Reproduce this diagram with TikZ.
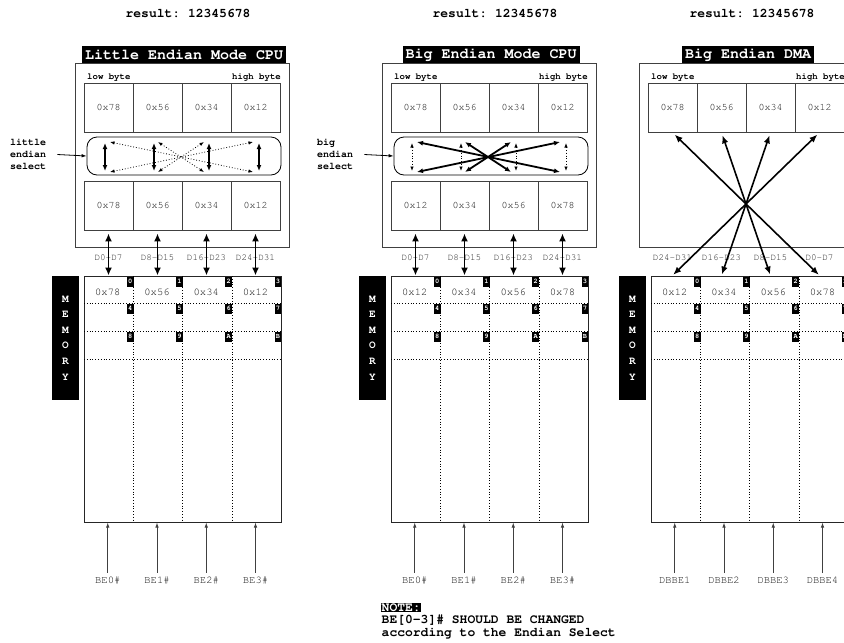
\documentclass[tikz,border=0pt]{standalone}
\usepackage{fontspec}
\setmainfont{Liberation Mono}
\usetikzlibrary{arrows.meta,positioning}

% Courier (Type 1) for all texts
\newcommand\courfont[2]{\fontencoding{T1}\fontfamily{pcr}\fontsize{#1}{#2}\selectfont\frenchspacing}

\tikzset{
  frame/.style={draw=black!75,line width=0.9pt},
  cell/.style={draw=black!75,line width=0.9pt,minimum width=49pt,minimum height=49pt,
    inner sep=0pt,text=black!90,font=\courfont{10}{12}},
  resultlbl/.style={font=\courfont{13}{14}\bfseries},
  titlebox/.style={fill=black,text=white,inner xsep=3pt,inner ysep=0pt,minimum height=17pt,
    font=\courfont{15}{16}\bfseries},
  bytelbl/.style={inner sep=1pt,font=\courfont{9}{10}\bfseries},
  selbox/.style={draw,line width=0.8pt,rounded corners=10pt,minimum width=194pt,minimum height=38pt},
  sellbl/.style={align=left,inner sep=1pt,font=\courfont{10}{12}\bfseries},
  selarrow/.style={line width=0.8pt,shorten <=10pt,-{Latex[length=5pt,width=3.5pt]}},
  swapon/.style={line width=1.5pt,{Latex[length=6pt,width=5pt]}-{Latex[length=6pt,width=5pt]}},
  swapoff/.style={dotted,line width=0.8pt,{Latex[length=4.5pt,width=3.5pt]}-{Latex[length=4.5pt,width=3.5pt]}},
  buslbl/.style={text=black!85,inner sep=1pt,font=\courfont{9.3}{10}},
  bus/.style={line width=1.8pt,shorten <=3pt,{Latex[length=8pt,width=7pt]}-{Latex[length=8pt,width=7pt]}},
  dma/.style={line width=1.6pt,shorten <=3pt,shorten >=1pt,{Latex[length=8pt,width=6.5pt]}-{Latex[length=8pt,width=6.5pt]}},
  memframe/.style={draw=black!85,line width=1pt,minimum width=197pt,minimum height=246pt},
  grid/.style={dotted,line width=0.8pt},
  memval/.style={text=black!90,font=\courfont{10.5}{12}},
  tag/.style={fill=black,text=white,inner xsep=1.2pt,inner ysep=0pt,minimum height=10pt,
    anchor=north east,font=\courfont{7}{8}\bfseries},
  memlbl/.style={fill=black,text=white,align=center,minimum width=27pt,minimum height=124pt,
    font=\courfont{11}{15.6}\bfseries},
  belbl/.style={text=black!90,font=\courfont{10.5}{12}},
  bearrow/.style={draw=black!75,line width=0.8pt,-{Latex[length=5pt,width=3.5pt]}},
  notebox/.style={fill=black,text=white,inner sep=0.5pt,font=\courfont{13}{13}\bfseries},
  notetxt/.style={align=left,inner sep=0.5pt,font=\courfont{13}{13}\bfseries}
}

\begin{document}
\begin{tikzpicture}[x=1pt,y=-1pt]
\useasboundingbox (0,0) rectangle (844,643);
\clip (0,0) rectangle (844,643);

%%% Little endian CPU
\node[resultlbl] (res1) at (188,14) {result: 12345678};
\node[titlebox] (ttl1) at (184,54.5) {Little Endian Mode CPU};
\draw[frame] (75,63) rectangle (289,247);
\node[bytelbl,anchor=west] at (86,77.5) {low byte};
\node[bytelbl,anchor=east] at (282,77.5) {high byte};
\foreach \v [count=\i] in {78,56,34,12}
  \node[cell] (top1-\i) at (59.5+49*\i,107.5) {0x\v};
\foreach \v [count=\i] in {78,56,34,12}
  \node[cell] (bot1-\i) at (59.5+49*\i,205.5) {0x\v};

% endian select: straight through
\node[selbox] (sel1) at (184,156) {};
\node[sellbl,anchor=west] (slb1) at (9,154) {little\\endian\\select};
\draw[selarrow] (slb1.east) -- (sel1.west);
\foreach \x [count=\i] in {110,158,204,253} {
  \coordinate (up1-\i) at (\x,142);
  \coordinate (dn1-\i) at (\x,172);
}
\foreach \x [count=\i] in {105,154,209,259} {
  \coordinate (va1-\i) at (\x,143);
  \coordinate (vb1-\i) at (\x,171);
  \draw[swapon] (va1-\i) -- (vb1-\i);
}
\draw[swapoff] (up1-1) -- (dn1-4);
\draw[swapoff] (up1-2) -- (dn1-3);
\draw[swapoff] (up1-3) -- (dn1-2);
\draw[swapoff] (up1-4) -- (dn1-1);

% memory
\node[memframe] (mem1) at (182.5,399) {};
\foreach \x in {133,182.5,232} \draw[grid] (\x,276) -- (\x,522);
\foreach \y in {303,331,359} \draw[grid] (84,\y) -- (281,\y);
\foreach \v [count=\i] in {78,56,34,12}
  \node[memval] (mv1-\i) at (58.5+49.25*\i,292) {0x\v};
\foreach \a/\b/\c [count=\i] in {0/4/8,1/5/9,2/6/A,3/7/B} {
  \node[tag] at (84.5+49.25*\i,276.5) {\a};
  \node[tag] at (84.5+49.25*\i,303.5) {\b};
  \node[tag] at (84.5+49.25*\i,331.5) {\c};
}
\node[memlbl] (ml1) at (65.5,338) {M\\E\\M\\O\\R\\Y};

% data bus
\foreach \l [count=\i] in {D0-D7,D8-D15,D16-D23,D24-D31} {
  \node[buslbl] (bl1-\i) at (59.5+49*\i,258) {\l};
  \draw[bus] (bot1-\i.south) -- (bot1-\i.south |- mem1.north);
}
% byte enables
\foreach \l [count=\i] in {BE0\#,BE1\#,BE2\#,BE3\#} {
  \node[belbl] (be1-\i) at (58.5+49.25*\i,580) {\l};
  \draw[bearrow] (be1-\i.north) -- (be1-\i.north |- mem1.south);
}

%%% Big endian CPU
\begin{scope}[shift={(307,0)}]
\node[resultlbl] (res2) at (188,14) {result: 12345678};
\node[titlebox] (ttl2) at (184,54.5) {Big Endian Mode CPU};
\draw[frame] (75,63) rectangle (289,247);
\node[bytelbl,anchor=west] at (86,77.5) {low byte};
\node[bytelbl,anchor=east] at (282,77.5) {high byte};
\foreach \v [count=\i] in {78,56,34,12}
  \node[cell] (top2-\i) at (59.5+49*\i,107.5) {0x\v};
\foreach \v [count=\i] in {12,34,56,78}
  \node[cell] (bot2-\i) at (59.5+49*\i,205.5) {0x\v};

% endian select: swapped
\node[selbox] (sel2) at (184,156) {};
\node[sellbl,anchor=west] (slb2) at (9,154) {big\\endian\\select};
\draw[selarrow] (slb2.east) -- (sel2.west);
\foreach \x [count=\i] in {110,158,204,253} {
  \coordinate (up2-\i) at (\x,142);
  \coordinate (dn2-\i) at (\x,172);
}
\foreach \x [count=\i] in {105,154,209,259} {
  \coordinate (va2-\i) at (\x,143);
  \coordinate (vb2-\i) at (\x,171);
  \draw[swapoff] (va2-\i) -- (vb2-\i);
}
\draw[swapon,line width=1.8pt] (up2-1) -- (dn2-4);
\draw[swapon,line width=1.8pt] (up2-2) -- (dn2-3);
\draw[swapon,line width=1.8pt] (up2-3) -- (dn2-2);
\draw[swapon,line width=1.8pt] (up2-4) -- (dn2-1);

% memory
\node[memframe] (mem2) at (182.5,399) {};
\foreach \x in {133,182.5,232} \draw[grid] (\x,276) -- (\x,522);
\foreach \y in {303,331,359} \draw[grid] (84,\y) -- (281,\y);
\foreach \v [count=\i] in {12,34,56,78}
  \node[memval] (mv2-\i) at (58.5+49.25*\i,292) {0x\v};
\foreach \a/\b/\c [count=\i] in {0/4/8,1/5/9,2/6/A,3/7/B} {
  \node[tag] at (84.5+49.25*\i,276.5) {\a};
  \node[tag] at (84.5+49.25*\i,303.5) {\b};
  \node[tag] at (84.5+49.25*\i,331.5) {\c};
}
\node[memlbl] (ml2) at (65.5,338) {M\\E\\M\\O\\R\\Y};

% data bus
\foreach \l [count=\i] in {D0-D7,D8-D15,D16-D23,D24-D31} {
  \node[buslbl] (bl2-\i) at (59.5+49*\i,258) {\l};
  \draw[bus] (bot2-\i.south) -- (bot2-\i.south |- mem2.north);
}
% byte enables
\foreach \l [count=\i] in {BE0\#,BE1\#,BE2\#,BE3\#} {
  \node[belbl] (be2-\i) at (58.5+49.25*\i,580) {\l};
  \draw[bearrow] (be2-\i.north) -- (be2-\i.north |- mem2.south);
}

% note
\node[notebox,anchor=north west] (note) at (74,603) {NOTE:};
\node[notetxt,below=1.5pt of note.south west,anchor=north west] (notetext)
  {BE[0-3]\# SHOULD BE CHANGED\\according to the Endian Select};
\end{scope}

%%% Big endian DMA
\begin{scope}[shift={(564,0)}]
\node[resultlbl] (res3) at (188,14) {result: 12345678};
\node[titlebox] (ttl3) at (184,54.5) {Big Endian DMA};
\draw[frame] (75,63) rectangle (289,247);
\node[bytelbl,anchor=west] at (86,77.5) {low byte};
\node[bytelbl,anchor=east] at (282,77.5) {high byte};
\foreach \v [count=\i] in {78,56,34,12}
  \node[cell] (top3-\i) at (59.5+49*\i,107.5) {0x\v};
\foreach \l [count=\i] in {D24-D31,D16-D23,D8-D15,D0-D7}
  \node[buslbl] (bl3-\i) at (59.5+49*\i,258) {\l};

% memory
\begin{scope}[shift={(3,0)}]
\node[memframe] (mem3) at (182.5,399) {};
\foreach \x in {133,182.5,232} \draw[grid] (\x,276) -- (\x,522);
\foreach \y in {303,331,359} \draw[grid] (84,\y) -- (281,\y);
\foreach \v [count=\i] in {12,34,56,78}
  \node[memval] (mv3-\i) at (58.5+49.25*\i,292) {0x\v};
\foreach \a/\b/\c [count=\i] in {0/4/8,1/5/9,2/6/A,3/7/B} {
  \node[tag] at (84.5+49.25*\i,276.5) {\a};
  \node[tag] at (84.5+49.25*\i,303.5) {\b};
  \node[tag] at (84.5+49.25*\i,331.5) {\c};
}
\node[memlbl] (ml3) at (65.5,338) {M\\E\\M\\O\\R\\Y};
\foreach \l [count=\i] in {DBBE1,DBBE2,DBBE3,DBBE4} {
  \node[belbl] (be3-\i) at (58.5+49.25*\i,580) {\l};
  \draw[bearrow] (be3-\i.north) -- (be3-\i.north |- mem3.south);
}
\end{scope}

% byte lanes crossed
\draw[dma] (top3-1.south) -- (top3-4.south |- mem3.north);
\draw[dma] (top3-2.south) -- (top3-3.south |- mem3.north);
\draw[dma] (top3-3.south) -- (top3-2.south |- mem3.north);
\draw[dma] (top3-4.south) -- (top3-1.south |- mem3.north);
\end{scope}
\end{tikzpicture}
\end{document}
